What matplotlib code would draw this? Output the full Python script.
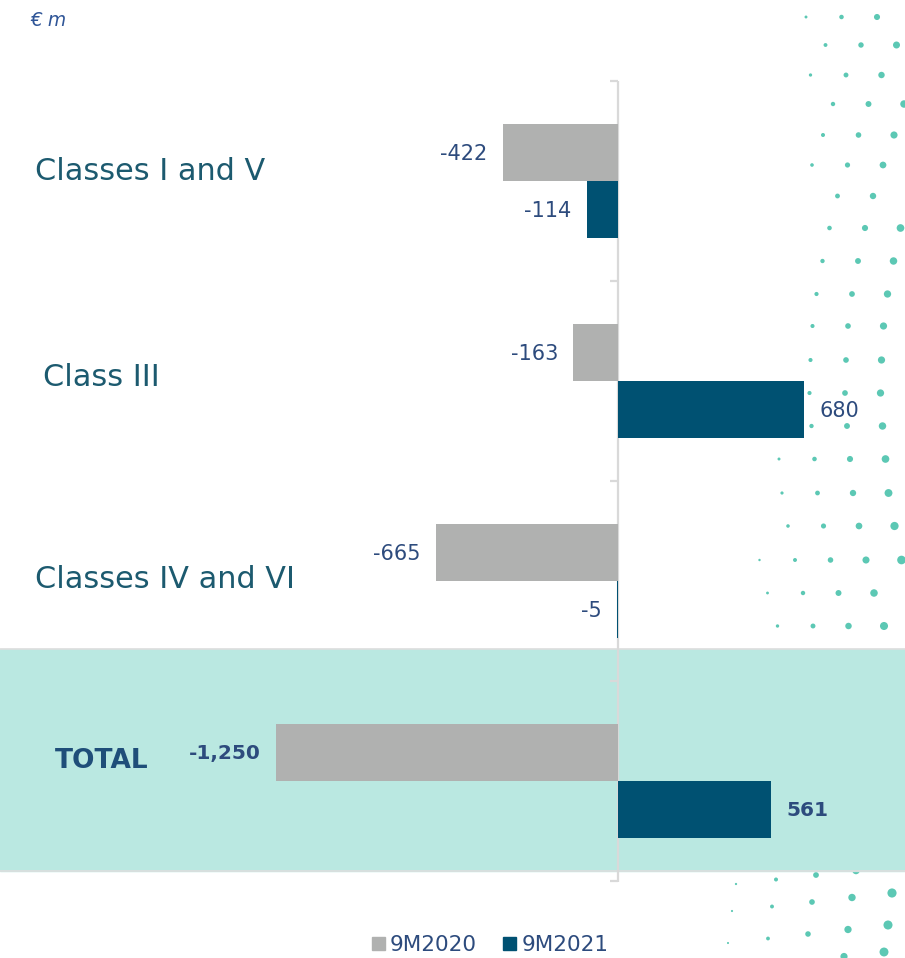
import numpy as np
import matplotlib
matplotlib.use('Agg')
from matplotlib import pyplot as plt
from matplotlib.patches import Patch

categories = ['Classes I and V', 'Class III', 'Classes IV and VI', 'TOTAL']
val_2020 = [-422, -163, -665, -1250]
val_2021 = [-114, 680, -5, 561]
lab_2020 = ['-422', '-163', '-665', '-1,250']
lab_2021 = ['-114', '680', '-5', '561']
series = ['9M2020', '9M2021']

grey = '#b0b1b0'
blue = '#005172'
band = '#bae8e1'
navy = '#2d4b7d'
teal_txt = '#1c5a6f'
dot_col = '#5cc8b4'

plt.rcParams['font.family'] = ['DejaVu Sans']

W, H = 905, 958
fig = plt.figure(figsize=(W / 100, H / 100), dpi=100)
ax = fig.add_axes([0, 0, 1, 1])

# pixel mapping: zero at x=618, 0.2736 px per unit; group i centre at y=181+200*i
x0, sx = 618, 0.2736
ax.set_xlim(-x0 / sx, (W - x0) / sx)
ax.set_ylim((H - 181) / 200, -181 / 200)
ax.set_axis_off()

y = np.arange(len(categories))
h = 0.285

# total band
ax.axhspan(2.34, 3.45, color=band, zorder=0)
ax.axhline(2.34, color='#dedede', lw=1.2, zorder=0.5)
ax.axhline(3.45, color='#dedede', lw=1.2, zorder=0.5)

ax.barh(y - h / 2, val_2020, height=h, color=grey, zorder=2)
ax.barh(y + h / 2, val_2021, height=h, color=blue, zorder=2)

# axis line with ticks at group boundaries
ax.vlines(0, -0.5, 3.505, color='#d9d9d9', lw=1.6, zorder=1.5)
for b in np.arange(-0.5, 4, 1.0):
    ax.hlines(b, -8 / sx, 0, color='#d9d9d9', lw=1.6, zorder=1.5)

for i in range(len(categories)):
    bold = categories[i] == 'TOTAL'
    fw = 'bold' if bold else 'normal'
    fs = 14.5 if bold else 15
    for v, lab, yy in [(val_2020[i], lab_2020[i], y[i] - h / 2),
                       (val_2021[i], lab_2021[i], y[i] + h / 2)]:
        off = 11 if v > 0 else -11
        ax.annotate(lab, (v, yy), xytext=(off, -1), textcoords='offset points',
                    ha='left' if v > 0 else 'right', va='center',
                    fontsize=fs, color=navy, fontweight=fw, zorder=5)

# category labels
cat_x = [35, 43, 35, 55]
cat_y = [171, 378, 580, 761]
for c, cx, cy in zip(categories, cat_x, cat_y):
    if c == 'TOTAL':
        fig.text(cx / W, 1 - cy / H, c, fontsize=19, fontweight='bold',
                 color='#1f4e79', va='center', ha='left')
    else:
        fig.text(cx / W, 1 - cy / H, c, fontsize=21.8, color=teal_txt,
                 va='center', ha='left')

fig.text(30 / W, 1 - 20 / H, '€ m', fontsize=13.5, style='italic',
         color='#2f5597', va='center', ha='left')

# decorative dot pattern on the right
rows_y = [17, 45, 75, 104, 135, 165, 196, 228, 261, 294,
          326, 360, 393, 426, 459, 493, 526, 560, 593, 626]
rows_x0 = [877, 861, 846, 833, 823, 812, 802, 794, 787, 781,
           777, 775, 774, 776, 779, 782, 788, 795, 803, 813]
dx, dy = [], []
for ry, rx in zip(rows_y, rows_x0):
    xx = rx - 35.5 * 2
    while xx < W:
        if xx > 755 + (0 if ry > 440 else 50):
            dx.append(xx)
            dy.append(ry)
        xx += 35.5
bottom_y0 = [884, 911, 943, 970]
for j, by in enumerate(bottom_y0):
    for k in range(5):
        xx = 736 - 4 * j + 40 * k
        if xx < W:
            dx.append(xx)
            dy.append(by - 4.5 * k)
dx = np.array(dx)
dy = np.array(dy)
size = np.clip((dx - 740) / 40 + (dy / 958) * 1.5, 0.7, 5.5) ** 2 * 1.6
dax = fig.add_axes([0, 0, 1, 1], zorder=-1)
dax.set_xlim(0, W)
dax.set_ylim(H, 0)
dax.set_axis_off()
dax.scatter(dx, dy, s=size, color=dot_col, lw=0)

handles = [Patch(color=grey), Patch(color=blue)]
fig.legend(handles, series, loc='center', bbox_to_anchor=(490 / W, 1 - 945 / H),
           ncol=2, frameon=False, fontsize=15.5, handlelength=0.6, handleheight=0.6,
           handletextpad=0.25, columnspacing=1.2, labelcolor=navy)

fig.savefig('out.png', dpi=100)
